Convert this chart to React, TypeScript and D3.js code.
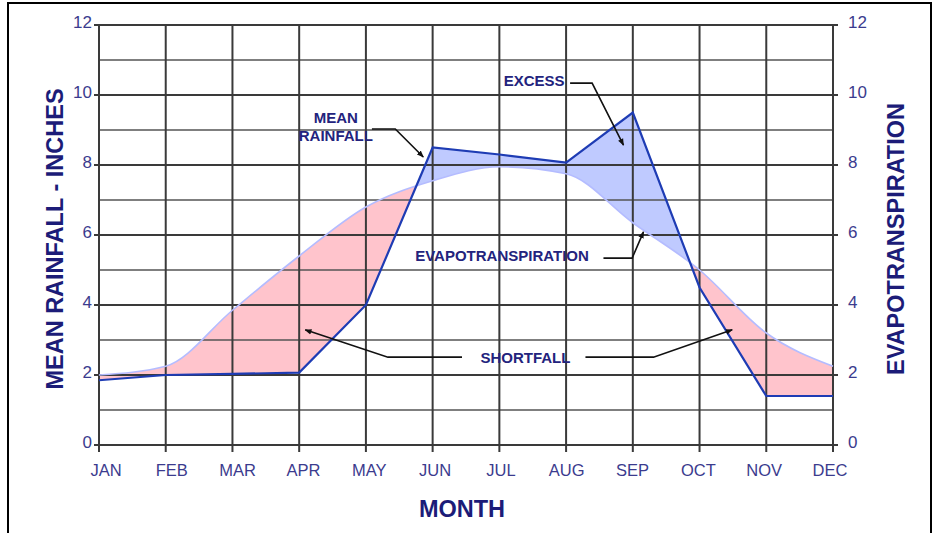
import React, { useRef, useEffect } from 'react';
import * as d3 from 'd3';

const months = ['JAN', 'FEB', 'MAR', 'APR', 'MAY', 'JUN', 'JUL', 'AUG', 'SEP', 'OCT', 'NOV', 'DEC'];
const meanRainfall = [1.85, 2.0, 2.03, 2.07, 4.0, 8.5, 8.3, 8.07, 9.5, 4.5, 1.4, 1.4];
const evapotranspiration = [2.0, 2.25, 3.85, 5.4, 6.8, 7.55, 7.95, 7.75, 6.35, 5.0, 3.2, 2.25];
const yTicks = [0, 2, 4, 6, 8, 10, 12];
const yMinor = [1, 3, 5, 7, 9, 11];

// callouts, positions in (month index, value) space
const callouts = [
    { lines: ['MEAN', 'RAINFALL'], at: [3.55, 9.09], arrows: [[[4.09, 9.03], [4.44, 9.03], [4.86, 8.23]]] },
    { lines: ['EXCESS'], at: [6.52, 10.4], arrows: [[[7.06, 10.34], [7.39, 10.34], [7.86, 8.57]]] },
    { lines: ['EVAPOTRANSPIRATION'], at: [6.04, 5.4], arrows: [[[7.56, 5.34], [7.99, 5.34], [8.16, 6.09]]] },
    {
        lines: ['SHORTFALL'], at: [6.39, 2.48], arrows: [
            [[5.44, 2.51], [4.33, 2.51], [3.09, 3.29]],
            [[7.29, 2.51], [8.31, 2.51], [9.49, 3.29]],
        ]
    },
];

const W = 936;
const H = 533;
const FONT = '"Liberation Sans", Arial, sans-serif';

const createChart = (svg: d3.Selection<SVGSVGElement, unknown, null, undefined>): void => {
    const margin = { top: 25, right: 103, bottom: 88, left: 99 };
    const width = W - margin.left - margin.right;
    const height = H - margin.top - margin.bottom;

    svg.selectAll('*').remove();

    // frame
    svg.append('path')
        .attr('d', `M8,${H} V3 H931 V${H}`)
        .attr('fill', 'none')
        .attr('stroke', '#000')
        .attr('stroke-width', 2);

    const x = d3.scalePoint<string>().domain(months).range([0, width]);
    const xLabel = d3.scalePoint<string>().domain(months).range([7, width - 3]);
    const xi = d3.scaleLinear().domain([0, months.length - 1]).range([0, width]);
    const y = d3.scaleLinear().domain([0, 12]).range([height, 0]);

    const g = svg.append('g').attr('transform', `translate(${margin.left},${margin.top})`);

    const defs = svg.append('defs');
    defs.append('marker')
        .attr('id', 'arrow')
        .attr('viewBox', '0 0 10 10')
        .attr('refX', 9)
        .attr('refY', 5)
        .attr('markerWidth', 7)
        .attr('markerHeight', 7)
        .attr('markerUnits', 'userSpaceOnUse')
        .attr('orient', 'auto')
        .append('path')
        .attr('d', 'M0,1 L10,5 L0,9 z')
        .attr('fill', '#111');

    const rainTop = d3.area<number>()
        .x((_, i) => xi(i))
        .y0(0)
        .y1(d => y(d));
    const rainBottom = d3.area<number>()
        .x((_, i) => xi(i))
        .y0(height)
        .y1(d => y(d));
    const etTop = d3.area<number>()
        .x((_, i) => xi(i))
        .y0(0)
        .y1(d => y(d))
        .curve(d3.curveMonotoneX);
    const etBottom = d3.area<number>()
        .x((_, i) => xi(i))
        .y0(height)
        .y1(d => y(d))
        .curve(d3.curveMonotoneX);

    defs.append('clipPath').attr('id', 'above-rain')
        .append('path').attr('d', rainTop(meanRainfall)!);
    defs.append('clipPath').attr('id', 'above-et')
        .append('path').attr('d', etTop(evapotranspiration)!);

    // shortfall (ET above rainfall)
    g.append('path')
        .attr('d', etBottom(evapotranspiration)!)
        .attr('clip-path', 'url(#above-rain)')
        .attr('fill', '#ffc4cc');
    // excess (rainfall above ET)
    g.append('path')
        .attr('d', rainBottom(meanRainfall)!)
        .attr('clip-path', 'url(#above-et)')
        .attr('fill', '#bfcaff');

    // grid
    g.selectAll('.minor')
        .data(yMinor)
        .enter().append('line')
        .attr('x1', 0).attr('x2', width)
        .attr('y1', d => y(d)).attr('y2', d => y(d))
        .attr('stroke', '#555')
        .attr('stroke-width', 1.4);
    g.selectAll('.major')
        .data(yTicks)
        .enter().append('line')
        .attr('x1', -5).attr('x2', width + 5)
        .attr('y1', d => y(d)).attr('y2', d => y(d))
        .attr('stroke', '#3a3a3a')
        .attr('stroke-width', 2);
    g.selectAll('.vgrid')
        .data(months)
        .enter().append('line')
        .attr('x1', d => x(d)!).attr('x2', d => x(d)!)
        .attr('y1', 0).attr('y2', height + 7)
        .attr('stroke', '#3a3a3a')
        .attr('stroke-width', 2);

    // lines
    g.append('path')
        .datum(evapotranspiration)
        .attr('d', d3.line<number>().x((_, i) => xi(i)).y(d => y(d)).curve(d3.curveMonotoneX))
        .attr('fill', 'none')
        .attr('stroke', '#b4bcff')
        .attr('stroke-width', 1.6);
    g.append('path')
        .datum(meanRainfall)
        .attr('d', d3.line<number>().x((_, i) => xi(i)).y(d => y(d)))
        .attr('fill', 'none')
        .attr('stroke', '#1e3cb4')
        .attr('stroke-width', 2.2);

    // tick labels
    const tickColor = '#3b3b8e';
    g.selectAll('.ylab')
        .data(yTicks)
        .enter().append('text')
        .attr('x', -7).attr('y', d => y(d) - 3)
        .attr('dy', '0.35em')
        .attr('text-anchor', 'end')
        .attr('font-family', FONT).attr('font-size', 17)
        .attr('fill', tickColor)
        .text(d => d);
    g.selectAll('.ylab2')
        .data(yTicks)
        .enter().append('text')
        .attr('x', width + 15).attr('y', d => y(d) - 3)
        .attr('dy', '0.35em')
        .attr('text-anchor', 'start')
        .attr('font-family', FONT).attr('font-size', 17)
        .attr('fill', tickColor)
        .text(d => d);
    g.selectAll('.xlab')
        .data(months)
        .enter().append('text')
        .attr('x', d => xLabel(d)!).attr('y', height + 31)
        .attr('text-anchor', 'middle')
        .attr('font-family', FONT).attr('font-size', 16.5)
        .attr('fill', tickColor)
        .text(d => d);

    // axis titles
    const titleColor = '#1c1c78';
    svg.append('text')
        .attr('transform', `translate(62.5,239) rotate(-90)`)
        .attr('text-anchor', 'middle')
        .attr('font-family', FONT).attr('font-size', 23.5).attr('font-weight', 'bold')
        .attr('fill', titleColor)
        .text('MEAN RAINFALL - INCHES');
    svg.append('text')
        .attr('transform', `translate(903.5,239) rotate(-90)`)
        .attr('text-anchor', 'middle')
        .attr('font-family', FONT).attr('font-size', 23.5).attr('font-weight', 'bold')
        .attr('fill', titleColor)
        .text('EVAPOTRANSPIRATION');
    svg.append('text')
        .attr('x', 462).attr('y', 517)
        .attr('text-anchor', 'middle')
        .attr('font-family', FONT).attr('font-size', 23.5).attr('font-weight', 'bold')
        .attr('fill', titleColor)
        .text('MONTH');

    // callouts
    callouts.forEach(c => {
        const t = g.append('text')
            .attr('text-anchor', 'middle')
            .attr('font-family', FONT).attr('font-size', 15).attr('font-weight', 'bold')
            .attr('fill', '#23237d');
        const y0 = y(c.at[1]) - (c.lines.length - 1) * 9;
        c.lines.forEach((l, i) => {
            t.append('tspan')
                .attr('x', xi(c.at[0]))
                .attr('y', y0 + i * 18)
                .attr('dy', '0.35em')
                .text(l);
        });
        c.arrows.forEach(a => {
            g.append('path')
                .attr('d', d3.line<number[]>().x(p => xi(p[0])).y(p => y(p[1]))(a)!)
                .attr('fill', 'none')
                .attr('stroke', '#111')
                .attr('stroke-width', 1.6)
                .attr('marker-end', 'url(#arrow)');
        });
    });
};

const App: React.FC = () => {
    const ref = useRef<SVGSVGElement>(null);

    useEffect(() => {
        if (ref.current) {
            createChart(d3.select(ref.current));
        }
    }, []);

    return (
        <svg
            ref={ref}
            width={W}
            height={H}
            style={{ position: 'absolute', left: 0, top: 0, background: '#fff' }}
        />
    );
};

export default App;
